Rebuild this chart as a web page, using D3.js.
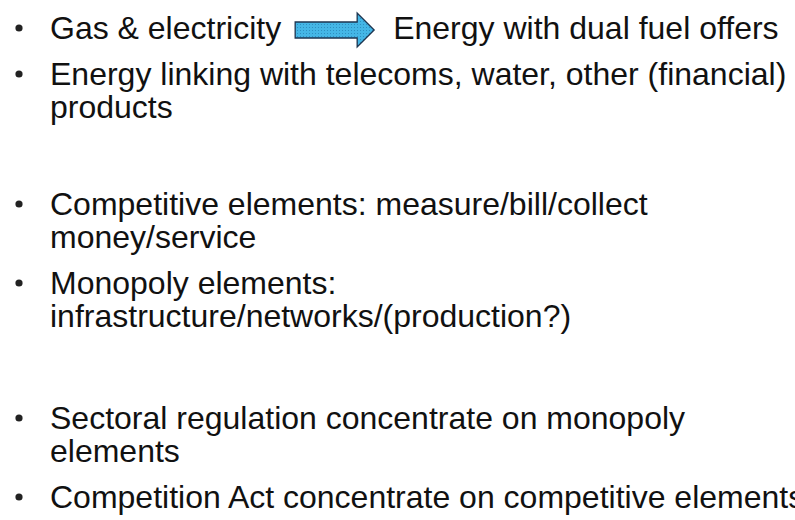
<!DOCTYPE html>
<html><head><meta charset="utf-8">
<script src="https://cdn.jsdelivr.net/npm/d3@7"></script>
<style>html,body{margin:0;padding:0;background:#fff;overflow:hidden}</style>
</head><body>
<svg id="c" width="795" height="520"></svg>
<script>
// Slide content
const bullets = [
  ["Gas & electricity"],
  ["Energy linking with telecoms, water, other (financial)", "products"],
  ["Competitive elements: measure/bill/collect", "money/service"],
  ["Monopoly elements:", "infrastructure/networks/(production?)"],
  ["Sectoral regulation concentrate on monopoly", "elements"],
  ["Competition Act concentrate on competitive elements"]
];
const groups = [0, 0, 1, 1, 2, 2];
const arrowTarget = "Energy with dual fuel offers";

const svg = d3.select("#c");
const font = "'Liberation Sans', Arial, sans-serif";
const fs = 32;
const lineH = 33, itemGap = 46, groupGaps = [97, 102];
const textX = 50, bulletX = 19;

let y = 39;
const lines = [];
bullets.forEach((b, i) => {
  if (i > 0) y += (groups[i] !== groups[i-1]) ? groupGaps[groups[i] - 1] : itemGap;
  b.forEach((t, j) => {
    if (j > 0) y += lineH;
    lines.push({t, y, bullet: j === 0, idx: i});
  });
});

svg.selectAll("text.line").data(lines).join("text")
  .attr("class", "line")
  .attr("x", textX).attr("y", d => d.y)
  .attr("font-family", font).attr("font-size", fs)
  .attr("fill", "#111")
  .text(d => d.t);

svg.selectAll("circle.b").data(lines.filter(d => d.bullet)).join("circle")
  .attr("class", "b")
  .attr("cx", bulletX).attr("cy", d => d.y - 11).attr("r", 3.6)
  .attr("fill", "#222");

// arrow after first line
const first = svg.select("text.line").node();
const w = first.getComputedTextLength();
const ax0 = textX + w + 14, ay = lines[0].y - 9;
const defs = svg.append("defs");
const pat = defs.append("pattern").attr("id", "dots").attr("width", 3).attr("height", 3)
  .attr("patternUnits", "userSpaceOnUse");
pat.append("rect").attr("width", 3).attr("height", 3).attr("fill", "#44b6e6");
pat.append("rect").attr("width", 1).attr("height", 1).attr("fill", "#2e8fc0");
const bodyLen = 62, headLen = 17, bh = 8, hh = 17;
const p = d3.path();
p.moveTo(ax0, ay - bh); p.lineTo(ax0 + bodyLen, ay - bh); p.lineTo(ax0 + bodyLen, ay - hh);
p.lineTo(ax0 + bodyLen + headLen, ay); p.lineTo(ax0 + bodyLen, ay + hh);
p.lineTo(ax0 + bodyLen, ay + bh); p.lineTo(ax0, ay + bh); p.closePath();
svg.append("path").attr("d", p.toString()).attr("fill", "url(#dots)")
  .attr("stroke", "#1d3550").attr("stroke-width", 1.3);
svg.append("text").attr("x", ax0 + bodyLen + headLen + 19).attr("y", lines[0].y)
  .attr("font-family", font).attr("font-size", fs).attr("fill", "#111")
  .text(arrowTarget);
</script>
</body></html>
